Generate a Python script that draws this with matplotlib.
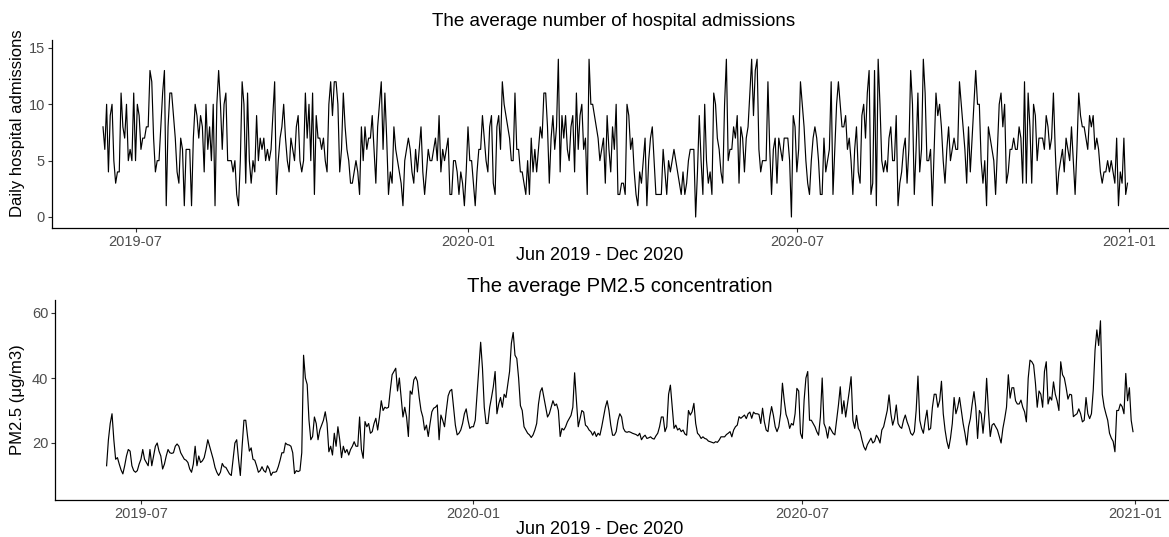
import matplotlib
matplotlib.use("Agg")
import matplotlib.pyplot as plt
import matplotlib.dates as mdates
import numpy as np
import pandas as pd

plt.rcParams['font.family'] = ['Liberation Sans', 'DejaVu Sans']

# ---------------- data ----------------
admissions = [
    8,6,10,4,9,10,5,3,4,4, 11,8,7,10,5,6,5,11,5,10, 9,6,7,7,8,8,13,12,7,4,
    5,5,8,11,13,1,8,11,11,9, 7,4,3,7,6,1,6,6,6,1, 7,10,9,7,9,8,4,10,6,8,
    5,10,1,10,13,10,6,10,11,5, 5,5,4,5,2,1,5,12,10,3, 11,5,3,5,4,9,5,7,6,7,
    5,6,
    5,6,9,12,2,5,7,8,10,7, 5,4,7,6,5,8,9,5,4,5, 11,7,10,5,11,2,9,7,7,6,
    7,5,4,10,12,9,12,12,10,4, 6,11,8,6,5,3,3,4,5,4, 2,8,5,8,6,7,7,9,6,3,
    8,10,12,6,11,7,2,4,3,8, 6,5,4,3,1,5,6,7,6,4, 3,6,4,6,8,4,2,4,6,5,
    5,6,7,5,9,4,6,5,
    6,7,2,2,5,5,4,2,4,3, 1,4,8,5,5,3,1,4,6,6, 9,7,5,4,8,9,3,2,8,9,
    6,12,10,9,8,7,5,5,11,6, 6,4,4,3,2,5,2,7,4,6, 4,6,8,7,11,11,8,3,7,9,
    6,8,14,4,9,7,9,6,5,8, 9,4,11,6,9,10,6,7,2,14, 10,10,9,8,7,5,6,7,3,9,
    6,4,8,6,10,2,
    2,3,3,2,10,9,6,7,4,2, 1,4,3,5,7,1,5,7,8,5, 2,2,2,2,6,4,2,5,4,5,
    6,5,4,3,2,4,2,3,5,6, 6,6,0,4,9,5,2,10,5,3, 4,2,11,10,7,6,4,3,10,14,
    5,6,6,8,7,9,3,8,7,4, 7,8,11,14,9,13,14,6,4,5, 5,5,12,6,2,6,7,3,7,6,
    5,7,7,7,5,0,9,
    8,4,6,12,10,8,5,3,2,5, 7,8,7,5,2,2,7,4,5,6, 12,2,6,10,12,10,8,8,9,6,
    7,5,2,6,8,4,3,9,10,7, 11,13,2,3,13,1,14,10,5,4, 5,4,7,8,5,5,9,1,3,4,
    6,7,3,6,13,10,2,6,11,4, 6,14,11,5,5,6,1,6,11,9, 10,8,5,3,6,8,5,6,7,6,
    6,12,10,8,6,3,8,
    4,7,10,13,10,10,5,3,5,1, 8,7,6,5,2,6,10,11,8,10, 3,4,6,6,7,6,6,8,7,3,
    12,3,11,8,3,10,9,5,7,7, 7,6,9,8,6,7,11,6,2,4, 5,6,4,7,6,5,8,5,2,6,
    11,9,8,8,7,6,9,8,9,6, 7,6,4,3,4,4,5,4,5,4, 3,7,1,4,3,7,2,3,
]

pm25 = [
    13,21,26,29,21,15,15.5,13.5,11.7,10.5, 13,16,18,17.5,13,11.5,11,11.5,13.5,15,
    18,15,14,13,18,13,16,19,20,17.5, 16,12,13.5,16,18,17,16.8,17,19,19.7,
    19,17,16,15,14.7,14,12,11,13.5,19, 13,16,14,14.5,15.5,18,21,19,17,15,
    12.5,11,10,11,13.7,12.7,12.5,11.5,10.5,10, 15,20,21,15,10,19,27,27,22,17.5,
    18.5,15,14.7,13,11,11.5,12.7,11.5,11,13,
    12,10,11,11,11.2,12.7,14.7,17,17,20, 19.5,19.4,19,17,10.6,11.5,11.2,11.5,17,47,
    40,38,27,21,22,28,26,21,24,25.5, 27,29.6,26,17.3,19,16.3,23,19,25,21,
    15.5,19,17,18,16.3,18,19,20.4,19,19, 28,18,15.3,26.6,25,26,23,23.5,26,27.6,
    24,28,33,30,31,30.7,31,36.3,41,42, 43,36,40,34,28,31,28,22,36,35,
    39.4,40.4,39,34,30,28,24,25.5,22,26, 29.6,30.7,31,31.7,21,28.6,27,25,
    30,34.5,36,36.5,31,25.5,22.5,23,24,26, 29,30.5,27,24.5,25,25,27,35,43,51,
    43,31,26,26,31,34,37.3,42,29,32, 34,31,35,34,38,42,50.7,54,47,46,
    40,31.5,30,25,24,23,22.5,21.7,22.5,24, 26,32,35.8,37,34,31,28,29,31,33,
    31.5,32,30,22,24.5,24,25,26.5,27.5,28.5, 31,41.6,33,25,27.5,30,29.5,25.5,25,24,
    23.5,22.4,23.5,22,23,22.4,25,28,31,33, 30,25.5,22.4,22.4,23.5,27,
    29,28,24.5,23.5,23.3,23.5,23.3,23,22.8,22.6, 22.2,23,21,21.9,22.4,21.4,21.6,21.9,21.4,21.2,
    22.2,23,25,28,28,23.5,25,35,37.8,31, 24.5,25.5,24,24.5,23.5,24,22.8,22.4,30,28.6,
    29.6,32.2,26,23,22.4,21.4,21.9,21.4,21.2,20.6, 20.4,20.2,20,20.4,20.2,20.9,21.9,21.9,21.9,22.6,
    23,23.5,21.9,24,25,25.5,28.1,27.6,28.1,28.6, 27.5,29,29.5,27.6,29.5,29,29,28.8,26,30.7,
    26.5,24,23.5,28.1,31.2,28.5,25,23.5,25,29, 38.4,33,28.8,27.2,24.5,26,25.5,
    29,36.8,36,23,21.4,33.2,40,42,27,27, 26,25,23.5,22.4,28,40,26,24.5,21.5,25,
    24,23,22.5,27,31.7,37.3,29,33,28,32, 36,40.4,27,24.5,28.5,24.5,23.5,21,18.9,17.8,
    19.5,20.5,21.5,20,20.5,22.4,21.5,20,24,25, 27.5,30,34.8,29,25.5,27.5,31.7,26,25,24.5,
    27,28.6,26.5,25,23,22.4,23.5,30,40.6,27, 24.5,23,27,30.1,24,24.5,31,35,35,31,
    33,39,29,24,20.5,18.3,21.5,26,34,29, 31,34,30,26,23,19.4,25,
    27.5,32,35.8,31,21.4,30,29,23,29,39.9, 30,22,25.5,26,25,24,22,20,24.5,27.5,
    31,41,33.8,37,37,33,32,32,33.2,31, 29.6,26.5,39.9,45.5,45,44,38.5,31,36,35,
    31,42,45,32,34.2,33.2,38.8,35,33,30, 45,41,40,37,33.5,35,34.8,28.1,28.6,29,
    30.5,29,26.5,27,34,29,27.5,29,36.3,48.6, 54.8,50,57.6,35,31.2,29,27,23,21.5,20.5,
    17.3,30,30,32,31.2,29,41.4,33,37,27,23.5,
]

end_date = "2020-12-31"
adm_dates = pd.date_range(end=end_date, periods=len(admissions), freq="D")
pm_dates = pd.date_range(end=end_date, periods=len(pm25), freq="D")

tick_dates = pd.to_datetime(["2019-07-01", "2020-01-01", "2020-07-01", "2021-01-01"])

titles = ["The average number of hospital admissions", "The average PM2.5 concentration"]
ylabels = ["Daily hospital admissions", "PM2.5 (\u03bcg/m3)"]
xlabel = "Jun 2019 - Dec 2020"
yticks_top = [0, 5, 10, 15]
yticks_bot = [20, 40, 60]

# ---------------- layout helpers ----------------
W, H = 1169, 537
fig = plt.figure(figsize=(W / 100, H / 100), dpi=100)
fig.patch.set_facecolor("white")


def add_panel(dates, values, x_first, x_last, y_of, yticks, ylims):
    d0 = mdates.date2num(dates[0])
    d1 = mdates.date2num(dates[-1])
    span = d1 - d0
    xlo, xhi = d0 - 0.05 * span, d1 + 0.05 * span
    pspan = x_last - x_first
    left = x_first - 0.05 * pspan
    right = x_last + 0.05 * pspan
    ylo, yhi = ylims
    top = y_of(yhi)
    bottom = y_of(ylo)
    ax = fig.add_axes([left / W, 1 - bottom / H, (right - left) / W, (bottom - top) / H])
    ax.plot(dates, values, color="black", linewidth=0.85)
    ax.set_xlim(xlo, xhi)
    ax.set_ylim(ylo, yhi)
    ax.set_xticks(tick_dates)
    ax.xaxis.set_major_formatter(mdates.DateFormatter("%Y-%m"))
    ax.set_yticks(yticks)
    for s in ["top", "right"]:
        ax.spines[s].set_visible(False)
    for s in ["left", "bottom"]:
        ax.spines[s].set_linewidth(0.9)
        ax.spines[s].set_color("black")
    ax.tick_params(axis="both", colors="#333333", labelcolor="#4D4D4D",
                   labelsize=10.5, length=3, width=0.8, pad=2)
    ax.set_facecolor("white")
    return ax


ax1 = add_panel(adm_dates, admissions, 103, 1127.5,
                lambda v: 217 - v * 11.27, yticks_top, (-0.95, 15.7))
ax2 = add_panel(pm_dates, pm25, 106.6, 1133,
                lambda v: 443 - (v - 20) * 3.25, yticks_bot, (2.5, 64.0))

fig.text(614 / W, 1 - 22 / H, titles[0], ha="center", va="center", fontsize=13.5, color="black")
fig.text(620 / W, 1 - 287 / H, titles[1], ha="center", va="center", fontsize=14.6, color="black")
fig.text(600 / W, 1 - 255 / H, xlabel, ha="center", va="center", fontsize=13, color="black")
fig.text(600 / W, 1 - 529 / H, xlabel, ha="center", va="center", fontsize=13, color="black")
fig.text(18 / W, 1 - 123 / H, ylabels[0], ha="center", va="center", rotation=90, fontsize=12, color="black")
fig.text(18 / W, 1 - 400 / H, ylabels[1], ha="center", va="center", rotation=90, fontsize=12, color="black")

fig.savefig("out.png", dpi=100, facecolor="white")
